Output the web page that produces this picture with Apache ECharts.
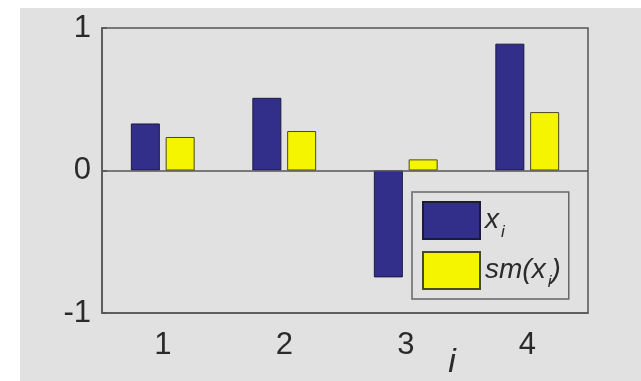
<!DOCTYPE html>
<html>
<head>
<meta charset="utf-8">
<script src="https://cdn.jsdelivr.net/npm/echarts@6/dist/echarts.min.js"></script>
<style>
html,body{margin:0;padding:0;background:#fff;}
#c{width:641px;height:381px;}
</style>
</head>
<body>
<div id="c"></div>
<script>
var categories = ['1', '2', '3', '4'];
var xValues = [0.33, 0.51, -0.75, 0.89];
var smValues = [0.235, 0.277, 0.078, 0.41];
var yMin = -1, yMax = 1, yInterval = 1;
var seriesNames = ['x_i', 'sm(x_i)'];

var chart = echarts.init(document.getElementById('c'), null, {renderer: 'canvas'});
var font = '"Liberation Sans", Arial, sans-serif';
var textColor = '#2a2a2a';
var axisColor = '#555';

var option = {
  backgroundColor: '#ffffff',
  animation: false,
  graphic: [{
    type: 'rect', z: -10, silent: true,
    shape: {x: 20, y: 8, width: 641, height: 381},
    style: {fill: '#e1e1e1'}
  }],
  grid: {
    left: 102, right: 53, top: 28, bottom: 68,
    outerBoundsMode: 'none',
    containLabel: false,
    show: true, borderColor: axisColor, borderWidth: 1.5, backgroundColor: 'transparent'
  },
  legend: {
    orient: 'vertical',
    left: 412, top: 192,
    padding: [9, 8, 8, 10],
    itemWidth: 57, itemHeight: 37, itemGap: 10,
    icon: 'rect',
    borderColor: '#666', borderWidth: 1.5, backgroundColor: '#e1e1e1',
    data: seriesNames,
    textStyle: {
      fontFamily: font, color: textColor,
      rich: {
        a: {fontFamily: font, fontStyle: 'italic', fontSize: 28, color: textColor},
        s: {fontFamily: font, fontStyle: 'italic', fontSize: 17, color: textColor, padding: [24, 0, 0, 2]}
      }
    },
    formatter: function (name) {
      if (name === 'x_i') return '{a|x}{s|i}';
      return '{a|sm(x}{s|i}{a|)}';
    }
  },
  xAxis: [{
    type: 'category',
    data: categories,
    position: 'bottom',
    axisLine: {onZero: false, lineStyle: {color: axisColor, width: 1.5}},
    axisTick: {inside: true, alignWithLabel: true, length: 5, lineStyle: {color: axisColor, width: 1.5}},
    axisLabel: {fontFamily: font, fontSize: 31, color: textColor, margin: 17},
    name: 'i',
    nameLocation: 'middle',
    nameGap: 33,
    nameMoveOverlap: false,
    nameTextStyle: {fontFamily: font, fontStyle: 'italic', fontSize: 34, color: textColor, padding: [0, 0, 0, 214]}
  }, {
    type: 'category',
    data: categories,
    position: 'top',
    axisLine: {show: false},
    axisTick: {inside: true, alignWithLabel: true, length: 5, lineStyle: {color: axisColor, width: 1.5}},
    axisLabel: {show: false}
  }],
  yAxis: {
    type: 'value',
    min: yMin, max: yMax, interval: yInterval,
    axisLine: {show: true, lineStyle: {color: axisColor, width: 1.5}},
    axisTick: {show: true, inside: true, length: 5, lineStyle: {color: axisColor, width: 1.5}},
    splitLine: {show: false},
    axisLabel: {fontFamily: font, fontSize: 31, color: textColor, margin: 11}
  },
  series: [{
    name: seriesNames[0],
    type: 'bar',
    data: xValues,
    barWidth: 29,
    barGap: '20%',
    itemStyle: {color: '#322f8a', borderColor: '#1a1a40', borderWidth: 1},
    markLine: {
      silent: true, symbol: 'none', label: {show: false},
      lineStyle: {color: axisColor, width: 1.5, type: 'solid'},
      data: [{yAxis: 0}]
    }
  }, {
    name: seriesNames[1],
    type: 'bar',
    data: smValues,
    barWidth: 29,
    barGap: '20%',
    itemStyle: {color: '#f5f500', borderColor: '#4a4a20', borderWidth: 1}
  }]
};
chart.setOption(option);
</script>
</body>
</html>
